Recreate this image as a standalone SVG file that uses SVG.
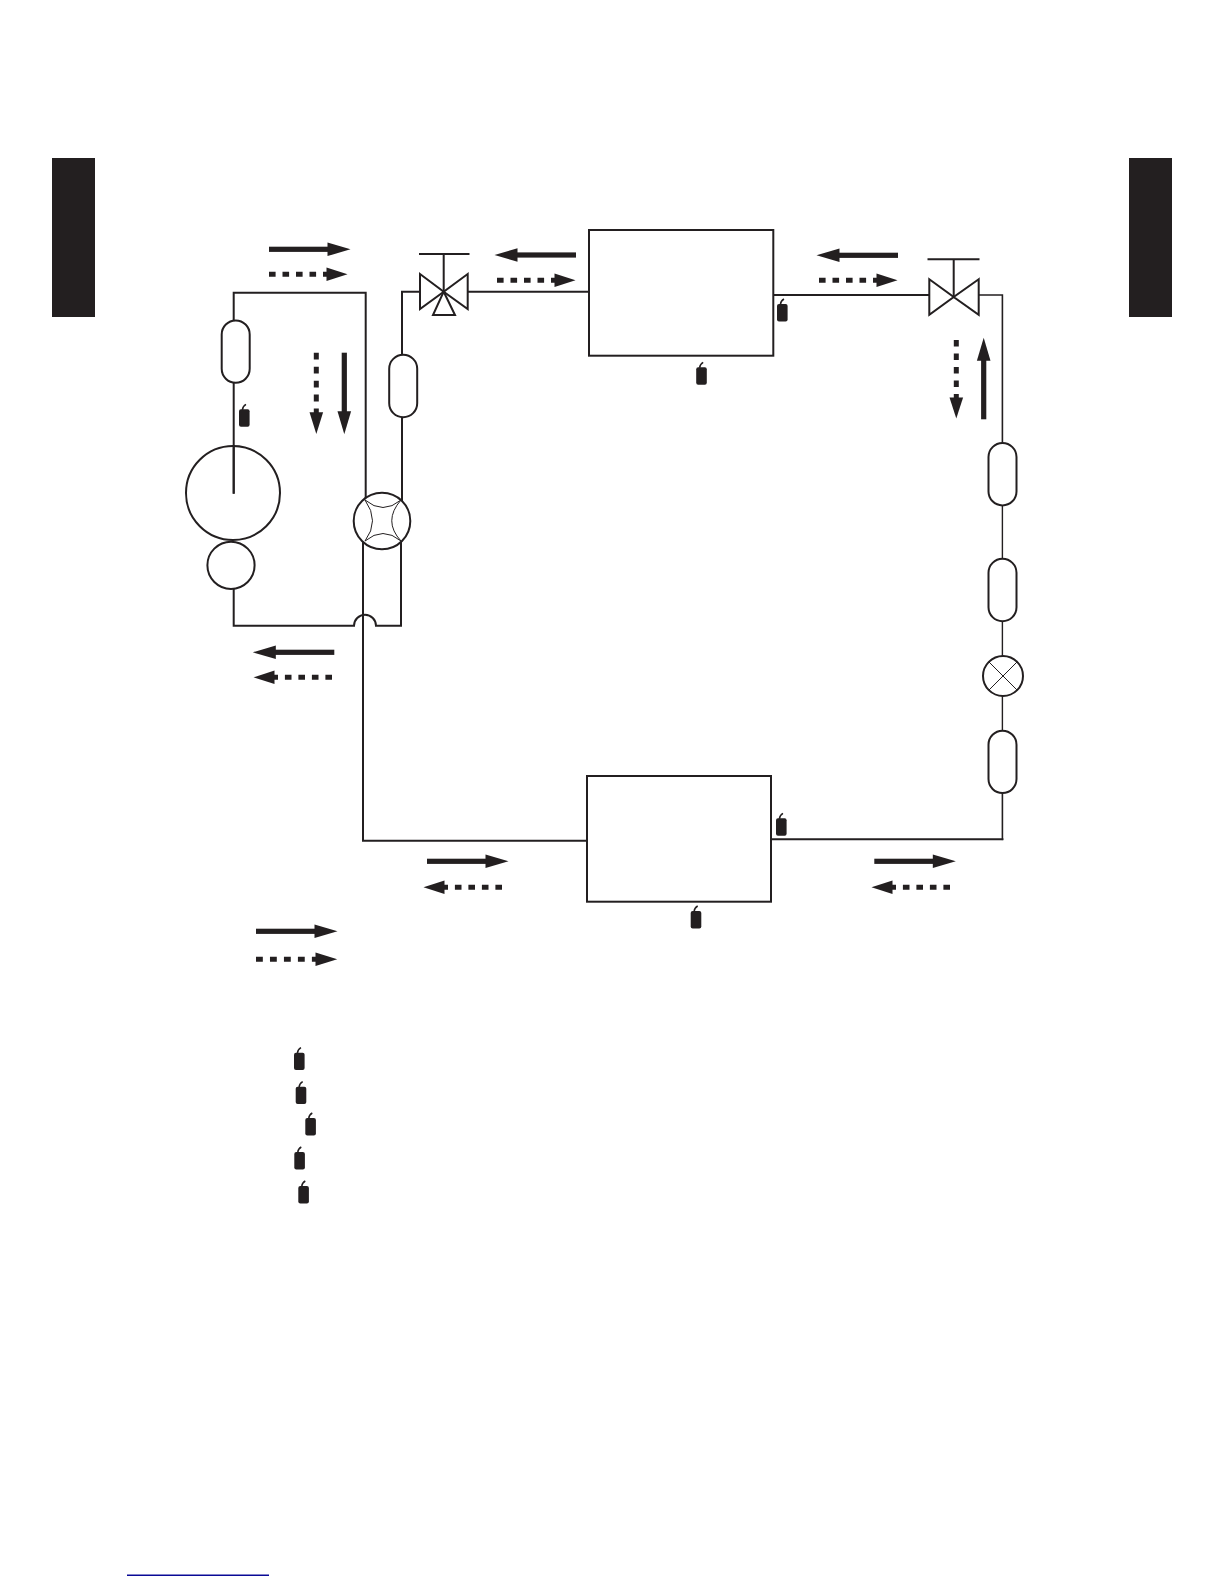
<svg xmlns="http://www.w3.org/2000/svg" width="1224" height="1584" viewBox="0 0 1224 1584">
<style>
.ln{fill:none;stroke:#231f20;stroke-width:2;stroke-linecap:square;stroke-linejoin:miter}
.nd{fill:#fff;stroke:#231f20;stroke-width:2}
.thin{fill:none;stroke:#231f20;stroke-width:1}
.tab{fill:#231f20}
.ink{fill:#231f20}
</style>
<defs>
<g id="arrow-solid"><rect x="0" y="-2.6" width="60" height="5.200" class="ink"/><polygon points="58.500,-6.800 81.500,0 58.500,6.800" class="ink"/></g>
<g id="arrow-dashed"><path d="M0 0H60" fill="none" stroke="#231f20" stroke-width="5" stroke-dasharray="6.600 6.900"/><polygon points="57.500,-6.800 78.500,0 57.500,6.800" class="ink"/></g>
<g id="bomb"><rect x="0" y="0" width="10.600" height="17.400" rx="2" class="ink"/><path d="M3.400 0.500Q3.800-3.400 7-5" fill="none" stroke="#231f20" stroke-width="1.500"/></g>
<rect id="capsule" x="-14" y="-31.200" width="28" height="62.400" rx="14" ry="14" class="nd"/>
</defs>
<rect width="1224" height="1584" fill="#fff"/>
<g id="side-tabs">
<rect class="tab" x="52" y="158" width="43" height="159"/>
<rect class="tab" x="1129" y="158" width="43" height="159"/>
</g>
<g id="connectors">
<path class="ln" d="M233.700 320V292.700H365.700V500"/>
<path class="ln" d="M233.700 383V492.700"/>
<path class="ln" d="M402 355V291.700H420"/>
<path class="ln" d="M402 417V502"/>
<path class="ln" d="M467.700 291.700H589"/>
<path class="ln" d="M773 295H929.300"/>
<path class="ln" style="stroke-width:1.600" d="M978.700 295H1002.400V443"/>
<path class="ln" style="stroke-width:1.400" d="M1002.400 505V559M1002.400 621V656M1002.400 696V731"/>
<path class="ln" style="stroke-width:1.600" d="M1002.400 793V839.300"/>
<path class="ln" d="M1002.400 839.300H771"/>
<path class="ln" d="M587 840.700H363V543"/>
<path class="ln" d="M401 541V625.700H376A11 11 0 0 0 354 625.700H233.700V589"/>
</g>
<g id="compressor">
<circle class="nd" cx="233" cy="493" r="47" style="fill:none"/>
<path class="ln" d="M233.700 446V492.700"/>
<circle class="nd" cx="231" cy="565.300" r="23.600"/>
</g>
<g id="accumulator-1"><use href="#capsule" x="235.700" y="351.600"/></g>
<g id="accumulator-2"><use href="#capsule" x="403.200" y="386"/></g>
<g id="four-way-valve">
<circle class="nd" cx="382" cy="521" r="28.300"/>
<path class="thin" d="M365 500Q383 515 401 500M365 541Q383 526 401 541M365 500Q380 521 365 541M401 500Q382.500 521 401 541"/>
</g>
<g id="three-way-valve">
<path class="ln" d="M443.700 291.700V254M420 254H468.500"/>
<polygon class="nd" points="420,274 443.700,291.700 420,309"/>
<polygon class="nd" points="467.700,274 443.700,291.700 467.700,309"/>
<polygon class="nd" points="443.700,291.700 433,315 455,315"/>
</g>
<g id="two-way-valve">
<path class="ln" d="M953.700 297V259.300M928.500 259.300H978.500"/>
<polygon class="nd" points="929.300,279.300 953.700,297 929.300,314.700"/>
<polygon class="nd" points="978.700,279.300 953.700,297 978.700,314.700"/>
</g>
<g id="heat-exchanger-top"><rect class="nd" x="589" y="230" width="184.300" height="125.700"/></g>
<g id="heat-exchanger-bottom"><rect class="nd" x="587" y="776" width="184" height="125.700"/></g>
<g id="filter-1"><use href="#capsule" x="1002.500" y="474.200"/></g>
<g id="filter-2"><use href="#capsule" x="1002.500" y="590"/></g>
<g id="expansion-valve">
<circle class="nd" cx="1003" cy="676" r="20"/>
<path class="thin" d="M989 662L1017 690M1017 662L989 690"/>
</g>
<g id="filter-3"><use href="#capsule" x="1002.500" y="761.900"/></g>
<g id="flow-arrows">
<use href="#arrow-solid" transform="translate(269 249.300)"/>
<use href="#arrow-dashed" transform="translate(269 274.300)"/>
<use href="#arrow-dashed" transform="translate(316.300 352.700) rotate(90) scale(1.035 1)"/>
<use href="#arrow-solid" transform="translate(344.300 352.700) rotate(90)"/>
<use href="#arrow-solid" transform="translate(334.300 652.300) rotate(180)"/>
<use href="#arrow-dashed" transform="translate(332 677.300) rotate(180)"/>
<use href="#arrow-solid" transform="translate(576 255) rotate(180)"/>
<use href="#arrow-dashed" transform="translate(497 280.300)"/>
<use href="#arrow-solid" transform="translate(898 255.300) rotate(180)"/>
<use href="#arrow-dashed" transform="translate(819 280.300)"/>
<use href="#arrow-dashed" transform="translate(956.300 340) rotate(90)"/>
<use href="#arrow-solid" transform="translate(983.700 419.300) rotate(-90)"/>
<use href="#arrow-solid" transform="translate(427 861.300)"/>
<use href="#arrow-dashed" transform="translate(502 887.300) rotate(180)"/>
<use href="#arrow-solid" transform="translate(874.300 861.300)"/>
<use href="#arrow-dashed" transform="translate(950 887.300) rotate(180)"/>
<use href="#arrow-solid" transform="translate(256 931.300)"/>
<use href="#arrow-dashed" transform="translate(256 959.300) scale(1.035 1)"/>
</g>
<g id="markers">
<use href="#bomb" x="239" y="409.300"/>
<use href="#bomb" x="777" y="304"/>
<use href="#bomb" x="696.200" y="367.300"/>
<use href="#bomb" x="776" y="818.300"/>
<use href="#bomb" x="690.700" y="911"/>
<use href="#bomb" x="294" y="1052.700"/>
<use href="#bomb" x="295.700" y="1086.700"/>
<use href="#bomb" x="305.300" y="1118"/>
<use href="#bomb" x="294.300" y="1152"/>
<use href="#bomb" x="298.300" y="1186"/>
</g>
<path id="footer-rule" d="M127 1575.300H269" stroke="#0a0a96" stroke-width="1.400" fill="none"/>
</svg>
